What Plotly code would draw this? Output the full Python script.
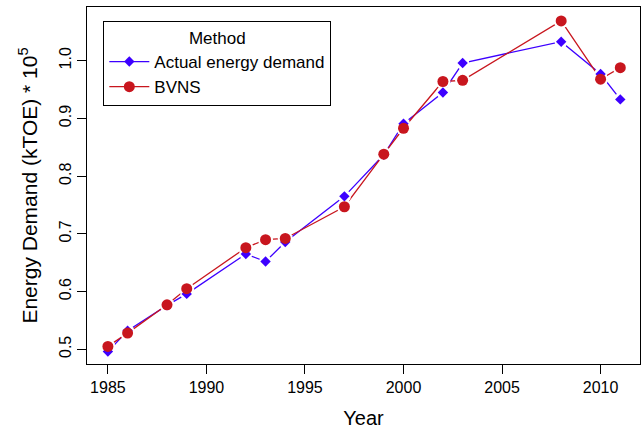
import plotly.graph_objects as go

years = [1985, 1986, 1988, 1989, 1992, 1993, 1994, 1997, 1999, 2000, 2002, 2003, 2008, 2010, 2011]
actual = [0.496, 0.532, 0.576, 0.596, 0.665, 0.652, 0.686, 0.765, 0.837, 0.891, 0.945, 0.996, 1.033, 0.977, 0.933]
bvns = [0.505, 0.528, 0.577, 0.605, 0.676, 0.690, 0.692, 0.747, 0.838, 0.883, 0.964, 0.966, 1.069, 0.968, 0.988]

x_ticks = [1985, 1990, 1995, 2000, 2005, 2010]
y_ticks = [0.5, 0.6, 0.7, 0.8, 0.9, 1.0]

BLUE = "#3D00FF"
RED = "#C8161E"
FONT = "Liberation Sans, Arial, sans-serif"

fig = go.Figure()
# lines
fig.add_trace(go.Scatter(x=years, y=actual, mode="lines", line=dict(color=BLUE, width=1.3),
                         showlegend=False, hoverinfo="skip"))
fig.add_trace(go.Scatter(x=years, y=bvns, mode="lines", line=dict(color=RED, width=1.3),
                         showlegend=False, hoverinfo="skip"))
# white halos (gaps as in R type="b")
fig.add_trace(go.Scatter(x=years, y=actual, mode="markers",
                         marker=dict(color="white", size=13, symbol="circle"),
                         showlegend=False, hoverinfo="skip"))
fig.add_trace(go.Scatter(x=years, y=bvns, mode="markers",
                         marker=dict(color="white", size=15, symbol="circle"),
                         showlegend=False, hoverinfo="skip"))
# markers
fig.add_trace(go.Scatter(x=years, y=actual, mode="markers",
                         marker=dict(color=BLUE, size=8, symbol="diamond"),
                         showlegend=False))
fig.add_trace(go.Scatter(x=years, y=bvns, mode="markers",
                         marker=dict(color=RED, size=11, symbol="circle"),
                         showlegend=False))
# legend entries
fig.add_trace(go.Scatter(x=[None], y=[None], mode="lines+markers", name="Actual energy demand",
                         line=dict(color=BLUE, width=1.3),
                         marker=dict(color=BLUE, size=8, symbol="diamond")))
fig.add_trace(go.Scatter(x=[None], y=[None], mode="lines+markers", name="BVNS",
                         line=dict(color=RED, width=1.3),
                         marker=dict(color=RED, size=11, symbol="circle")))

fig.update_layout(
    width=641, height=430,
    margin=dict(l=87, r=1, t=7, b=66),
    paper_bgcolor="white", plot_bgcolor="white",
    font=dict(family=FONT, size=16, color="black"),
    showlegend=True,
    legend=dict(
        x=0.0295, y=0.961, xanchor="left", yanchor="top",
        bordercolor="black", borderwidth=1, bgcolor="white",
        font=dict(family=FONT, size=17, color="black"),
        title=dict(text="Method", side="top center", font=dict(family=FONT, size=17)),
        tracegroupgap=0, itemwidth=40,
    ),
    xaxis=dict(
        range=[1983.94, 2012.0], tickvals=x_ticks, ticktext=[str(v) for v in x_ticks],
        showgrid=False, zeroline=False, showline=True, mirror=True,
        linecolor="black", linewidth=1, ticks="outside", ticklen=9, tickcolor="black",
        tickfont=dict(family=FONT, size=16),
        title=dict(text="Year", font=dict(family=FONT, size=20), standoff=15),
    ),
    yaxis=dict(
        range=[0.4745, 1.0931], tickvals=y_ticks, ticktext=["%.1f" % v for v in y_ticks],
        tickangle=-90,
        showgrid=False, zeroline=False, showline=True, mirror=True,
        linecolor="black", linewidth=1, ticks="outside", ticklen=9, tickcolor="black",
        tickfont=dict(family=FONT, size=16),
        title=dict(text="Energy Demand (kTOE) * 10<sup>5</sup>", font=dict(family=FONT, size=21),
                   standoff=13),
    ),
)

fig.write_html("out.html", config={"displayModeBar": False},
               post_script="document.body.style.margin='0';document.body.style.overflow='hidden';")
